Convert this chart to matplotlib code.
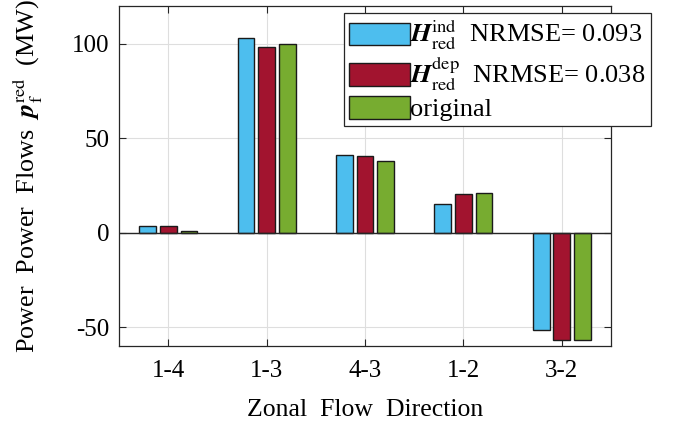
import numpy as np
import matplotlib.pyplot as plt

plt.rcParams['font.family'] = ['Liberation Serif', 'DejaVu Serif']
plt.rcParams['mathtext.fontset'] = 'stix'

# data
directions = ['1-4', '1-3', '4-3', '1-2', '3-2']
h_ind = [3.7, 103.0, 41.0, 15.2, -51.5]
h_dep = [3.4, 98.2, 40.5, 20.5, -56.7]
original = [1.1, 100.0, 38.2, 21.0, -57.0]
labels = [r'$\boldsymbol{H}_{\mathrm{red}}^{\mathrm{ind}}$  NRMSE= 0.093',
          r'$\boldsymbol{H}_{\mathrm{red}}^{\mathrm{dep}}$  NRMSE= 0.038',
          'original']
colors = ['#4DBEEE', '#A2142F', '#77AC30']

fig = plt.figure(figsize=(6.75, 4.23), dpi=100)
ax = fig.add_axes([119/675, 1 - 346/423, (611 - 119)/675, (346 - 6)/423])

x = np.arange(1, len(directions) + 1)
w = 0.17
offs = [-0.21, 0, 0.21]
series = [h_ind, h_dep, original]
for s, o, c, lab in zip(series, offs, colors, labels):
    ax.bar(x + o, s, width=w, color=c, edgecolor='#1a1a1a', linewidth=1.0, label=lab, zorder=3)
ax.axhline(0, color='#262626', lw=1.0, zorder=4)

ax.set_xlim(0.5, 5.5)
ax.set_ylim(-60, 120)
ax.set_xticks(x)
ax.set_xticklabels(directions)
ax.set_yticks([-50, 0, 50, 100])
ax.set_yticklabels(['-50', '0', '50', '100'])
ax.tick_params(direction='in', top=True, right=True, length=5, width=0.8,
               labelsize=18, color='#262626')
ax.tick_params(axis='x', pad=10)
ax.tick_params(axis='y', pad=7)
ax.grid(True, color='#dedede', lw=0.8, zorder=0)
for sp in ax.spines.values():
    sp.set_color('#262626')
    sp.set_linewidth(0.9)

ax.set_xlabel('Zonal  Flow  Direction', fontsize=18.5, labelpad=12)
ax.set_ylabel(r'Power  Power  Flows  $\boldsymbol{p}_{\mathrm{f}}^{\mathrm{red}}$  (MW)', fontsize=18.8, labelpad=19)

leg = ax.legend(loc='upper right', bbox_to_anchor=(651/675, 1 - 13/423), bbox_transform=fig.transFigure,
                fontsize=19, fancybox=False, framealpha=1, edgecolor='#262626',
                handlelength=2.3, handleheight=0.95, handletextpad=0.03, labelspacing=0.1,
                borderpad=0.2, borderaxespad=0)
leg.get_frame().set_linewidth(0.9)

fig.savefig('out.png', dpi=100)
